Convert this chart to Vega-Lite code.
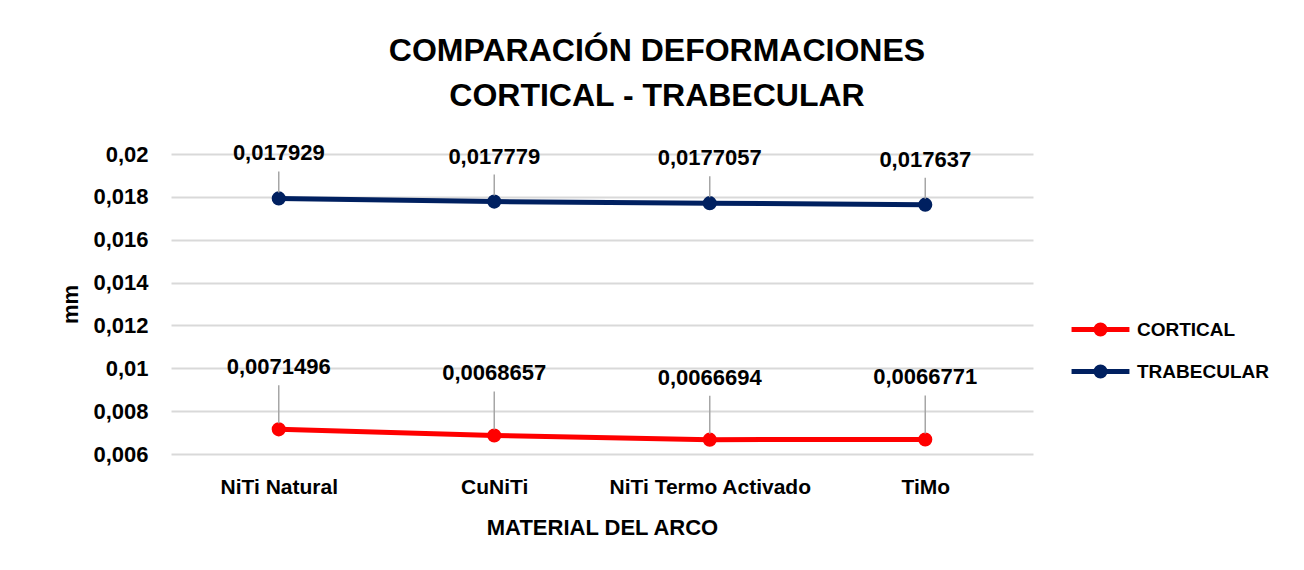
{
  "$schema": "https://vega.github.io/schema/vega-lite/v6.json",
  "autosize": "none",
  "width": 862,
  "height": 300,
  "padding": {"left": 171, "top": 154, "right": 271, "bottom": 116},
  "background": "white",
  "config": {
    "locale": {"number": {"decimal": ",", "thousands": ".", "grouping": [3], "currency": ["", "€"]}},
    "view": {"stroke": null},
    "font": "Liberation Sans"
  },
  "title": {
    "text": ["COMPARACIÓN DEFORMACIONES", "CORTICAL - TRABECULAR"],
    "font": "Liberation Sans",
    "fontSize": 32,
    "fontWeight": "bold",
    "color": "#000000",
    "lineHeight": 45,
    "anchor": "middle",
    "frame": "group",
    "baseline": "bottom",
    "offset": -3,
    "dx": 55
  },
  "data": {
    "values": [
      {"material": "NiTi Natural", "serie": "CORTICAL", "value": 0.0071496},
      {"material": "CuNiTi", "serie": "CORTICAL", "value": 0.0068657},
      {"material": "NiTi Termo Activado", "serie": "CORTICAL", "value": 0.0066694},
      {"material": "TiMo", "serie": "CORTICAL", "value": 0.0066771},
      {"material": "NiTi Natural", "serie": "TRABECULAR", "value": 0.017929},
      {"material": "CuNiTi", "serie": "TRABECULAR", "value": 0.017779},
      {"material": "NiTi Termo Activado", "serie": "TRABECULAR", "value": 0.0177057},
      {"material": "TiMo", "serie": "TRABECULAR", "value": 0.017637}
    ]
  },
  "encoding": {
    "x": {
      "field": "material",
      "type": "nominal",
      "sort": null,
      "scale": {"type": "point", "padding": 0.5},
      "axis": {
        "title": "MATERIAL DEL ARCO",
        "titleFont": "Liberation Sans",
        "titleFontSize": 22,
        "titleFontWeight": "bold",
        "titleColor": "#000000",
        "titlePadding": 20,
        "labelFont": "Liberation Sans",
        "labelFontSize": 21,
        "labelFontWeight": "bold",
        "labelColor": "#000000",
        "labelAngle": 0,
        "labelPadding": 22,
        "labelLimit": 400,
        "domain": false,
        "ticks": false,
        "grid": false
      }
    },
    "y": {
      "field": "value",
      "type": "quantitative",
      "scale": {"domain": [0.006, 0.02], "nice": false, "zero": false},
      "axis": {
        "title": "mm",
        "titleFont": "Liberation Sans",
        "titleFontSize": 22,
        "titleFontWeight": "bold",
        "titleColor": "#000000",
        "titlePadding": 10,
        "values": [0.006, 0.008, 0.01, 0.012, 0.014, 0.016, 0.018, 0.02],
        "format": "~g",
        "labelFont": "Liberation Sans",
        "labelFontSize": 22,
        "labelFontWeight": "bold",
        "labelColor": "#000000",
        "labelPadding": 23,
        "domain": false,
        "ticks": false,
        "grid": true,
        "gridColor": "#D9D9D9",
        "gridWidth": 2
      }
    },
    "color": {
      "field": "serie",
      "type": "nominal",
      "scale": {"domain": ["CORTICAL", "TRABECULAR"], "range": ["#FF0000", "#002060"]},
      "legend": {
        "title": null,
        "orient": "none",
        "legendX": 912,
        "legendY": 158,
        "padding": 0,
        "symbolType": "M-1.93,0H1.93M-0.3,0A0.3,0.3,0,1,0,0.3,0A0.3,0.3,0,1,0,-0.3,0Z",
        "symbolSize": 900,
        "symbolStrokeWidth": 5,
        "labelOffset": 19,
        "rowPadding": 10,
        "labelFont": "Liberation Sans",
        "labelFontSize": 19,
        "labelFontWeight": "bold",
        "labelColor": "#000000",
        "encode": {
          "symbols": {
            "update": {
              "fill": {"scale": "color", "field": "value"},
              "stroke": {"scale": "color", "field": "value"},
              "opacity": {"value": 1}
            }
          }
        }
      }
    }
  },
  "layer": [
    {"mark": {"type": "line", "strokeWidth": 5}},
    {"mark": {"type": "point", "filled": true, "size": 200, "opacity": 1, "shape": "circle"}},
    {
      "transform": [{"filter": "datum.serie === 'TRABECULAR'"}],
      "mark": {"type": "rule", "color": "#A6A6A6", "strokeWidth": 1.5, "yOffset": -6, "y2Offset": -27},
      "encoding": {"y2": {"field": "value"}, "color": {"value": "#A6A6A6"}}
    },
    {
      "transform": [{"filter": "datum.serie === 'CORTICAL'"}],
      "mark": {"type": "rule", "color": "#A6A6A6", "strokeWidth": 1.5, "yOffset": -6, "y2Offset": -44},
      "encoding": {"y2": {"field": "value"}, "color": {"value": "#A6A6A6"}}
    },
    {
      "transform": [{"filter": "datum.serie === 'TRABECULAR'"}],
      "mark": {"type": "text", "dy": -45, "font": "Liberation Sans", "fontSize": 22, "fontWeight": "bold", "baseline": "middle"},
      "encoding": {"text": {"field": "value", "type": "quantitative", "format": "~g"}, "color": {"value": "#000000"}}
    },
    {
      "transform": [{"filter": "datum.serie === 'CORTICAL'"}],
      "mark": {"type": "text", "dy": -62, "font": "Liberation Sans", "fontSize": 22, "fontWeight": "bold", "baseline": "middle"},
      "encoding": {"text": {"field": "value", "type": "quantitative", "format": "~g"}, "color": {"value": "#000000"}}
    }
  ]
}
